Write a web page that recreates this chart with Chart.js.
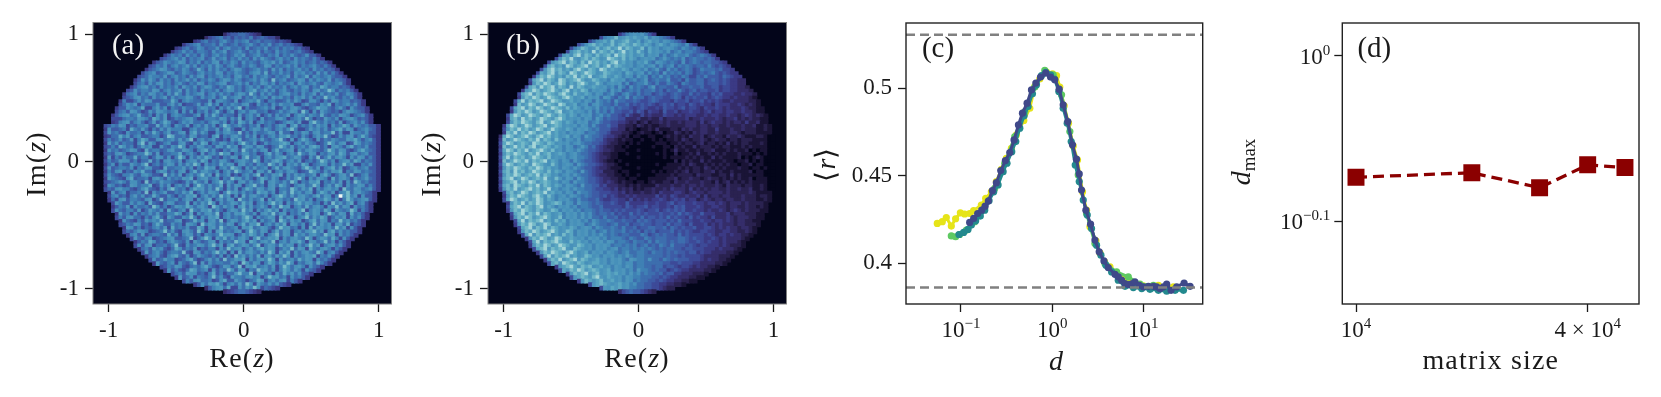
<!DOCTYPE html>
<html lang="en">
<head>
<meta charset="UTF-8" />
<title>Eigenvalue density and level spacing ratio</title>
<script src="https://cdn.jsdelivr.net/npm/chart.js"></script>
<style>
  html, body { margin: 0; background: #fff; }
  #page { position: relative; width: 1661px; height: 397px; overflow: hidden; }
  canvas { position: absolute; top: 0; filter: blur(0.35px); }
</style>
</head>
<body>
<div id="page">
  <canvas id="panelA" width="415" height="397" style="left:0"></canvas>
  <canvas id="panelB" width="385" height="397" style="left:415px"></canvas>
  <canvas id="panelC" width="420" height="397" style="left:800px"></canvas>
  <canvas id="panelD" width="441" height="397" style="left:1220px"></canvas>
</div>
<script>
// heatmap levels by eye, one hex digit per cell, top row first. each row only lists
// the cells inside the disk and is centred in the 80 bins
const densityA = [
"","","",
"3566776543",
"3567867576 7685676553",
"4578676897 6878967867 765654",
"4678967786 9767867897 6879678676 54",
"4578679867 7968977869 6787967868 786754",
"4679786887 6978a67897 6879687697 87678654",
"4687869786 9768978679 8a67897687 9687976796 64",
"5678979687 8967a78968 7978697a87 6897869787 6864",
"4679878a96 8796879a68 7986978768 98a7967897 86786764",
"5687968978 a7968797a8 6897687986 7a96878979 6878976864",
"4678a97687 9867b86979 7868a97678 9786a79687 8978697867 64",
"5789678a96 7987689787 a968798768 9a7b687978 6989786a79 6864",
"5679887a68 9786979a68 7897869a78 6978976878 a6978b6987 897664",
"4697a86978 6978a79687 9868a97986 7897a86c78 9678a96979 87a68764",
"5786979a78 6897687a96 8789a67897 9687a97968 7896a87897 69878964",
"4689a78697 8796a87968 a97687b978 6897968a78 7968979a68 7b97886764",
"5697887a96 8978a69786 9787968a97 8689b78a79 6897687986 9a78c96878 64",
"4789687a97 8697b86978 9a68979786 8a97c86979 7689a78697 8a69787967 9864",
"5679a78697 8a69788a97 6978968b78 9a68797896 a8978698a7 9687c89768 7964",
"4855797a96 6677b85898 7766a59987 6a57898b75 8866797a85 6997586a97 886764",
"5798a58777 9668a79566 7a68b79587 9879a65978 697a889558 a77698b587 897964",
"4669878b55 8a79587697 768a978597 a79c586678 97a56979a8 6578b99768 a7597664",
"5786a97569 7a9878a596 9587968b75 8a58979a77 8567978a96 c8596a8767 58a98764",
"4689a78b76 8597a58987 668a597b86 8775a6897a 5796978a58 a97987b768 7a98578964",
"5557887a98 6b97a56878 9a7558887a 9697b58975 a6779a8578 97c8576a87 9589a86764",
"4589a68975 7a68b96579 8a77868a97 9586b97a58 9787568a97 a559c87978 6a57897964",
"5687a95768 8966b7a859 87a5897a79 58c978a768 7a57868a95 9b68797a89 5978b96a87 8664",
"4966785b87 a758697a88 8558978a77 a69b755968 a97a868979 c8557a8979 689b7a9578 9764",
"5a78659778 597b868a67 9a59b7a855 979a87c686 9778a96b77 587a969a78 8c6955a887 9664",
"4577b8a689 6678857cb7 786a967759 b5879a8697 a586897a9b 7869758a8c 756979a68b 8654",
"5867967a58 b9669a7897 a79c58978a 6575a8b678 97a7689c75 a58b975a68 79877a9b86 8964",
"4a79687759 c6a8568966 9a6597ba58 7a97869c87 a569788ab9 5897a87568 c979a56b97 8764",
"5686b97857 a8955a7698 c9587a9786 a97b8958a9 7a96578c97 a6897ab968 59a869b787 9664",
"4978678a96 5b788679a7 7a9858ab79 6587a96c87 979a58b789 a5979a8768 c97a96579b 8764",
"5769a85678 8c96a57788 b68975a689 7c9a587a97 8569b7a858 97c87a9587 9a7b969a78 9664",
"4a586977b6 8857a96958 c9597a8b96 7587a959c7 8a58979ab7 8a96597c68 b79a8597a9 6864",
"5867a99685 77b6859a87 a589a7b958 7a97589a87 c9587ab968 97a57868ca 79589a7b96 8764",
"4795866a87 9c57868a96 97a8c95a78 7b8a959a78 6987c97a59 8a7b9578a9 6978c8a558 7964",
"5a67887958 7a9665b778 8a79587b9a 5897ca8597 a78958b79a 8769c97a58 9b7a568978 9664",
"4869a57698 b7758a9686 9a58b79a87 958a7c9789 5a97b58979 a8567ca869 7a9b587a97 8764",
"5976588a76 9a8665c797 a58979c8a5 b78a575897 9c587a9b59 7a8978a59b 8579a7c568 9664",
"4a87659b67 7859a86978 7a9b589a78 9587c9a797 58b97a8569 7ac8597a98 5b79a85978 a764",
"5678a86997 5c687a8876 5697b87a58 9c7a859a79 78b59a8797 c9587a9b58 797a596c97 8664",
"4986756a97 88b5697a58 97a58c9797 8b5a7a9589 c7859a7b97 589a78c958 a7b95978a9 6864",
"5769a88657 9b76586ac8 7858b9a797 c8597a58b9 7a979a5887 c97a8b5979 a895c87a97 8964",
"4a68957786 c5978a6687 a8b5797a98 58c9a79786 b9a7958a7c 8979a58b97 a589c79a87 64",
"5896758a79 67b8669758 7a9b58a797 c8a595b79a 87958ac97a 79a879b7a9 58f9c8a596 64",
"4759a68876 9a57c68896 8a95979b58 a7a95c8797 8b5a7a9786 c9a79588b9 7a58c9789a 64",
"5a86697985 b7658a9677 b597a8c959 78a97b8a58 979c8a5979 b8a978596c 8a79b58964",
"4687a59778 6c96857a98 b979a85c97 a8959b7a78 a8597c9a58 97b79a8598 c7a9597864",
"5976886a57 a8795b7689 5c87a9b797 58a97c8a59 79b8a59787 9c58a97b95 a878c95864",
"4a78596879 7a6688b957 b5979a8c58 97a9b87959 a8c79a5879 7b8a958c97 a95b7864",
"5869a77586 9b75a86698 c8597a9b58 9787ac9597 8a95b7a958 9c7a8b9579 8a597964",
"4976586a89 8c6779a567 b8959a7c58 a979b8a597 8a5c97a895 79b7a9587c 897864",
"5687a96758 b8669785a9 85c8a9797a 958b7a9c58 97a8b5a979 58c7a8959a 7b5764",
"4a96857689 7a5b787966 b959a7c878 95a9b78a97 58c9a78595 b7a9897c8a 5964",
"5768a98567 8c79659a86 c8595ab787 9a58c97a95 8b7a958979 ac8a59b797 8664",
"4896a57887 6b7958a968 59878c9a95 7a8b97958a c7a95b8979 a87c9a5978 64",
"5a76895678 9a6678c579 c95a8b7979 a859c78a9b 5979a87c95 8a97b85964",
"4687b96758 a87695a867 9a59787c9a 5b979a8c58 97a9b85a97 8c795864",
"5969a57786 8c65978a97 9c8a59b78a 979c58a97b 8a95979c8a 589a7964",
"4786a89657 b9687a5768 8597c89a68 a79b8a9579 8c7a95b879 a85864",
"5a68975788 7c65a96879 c8a595b79a 8797c95a8b 5979a87c95 8964",
"4789658ab7 6957a87686 9585c8a797 b59a7a8c95 978a9b5879 64",
"5967a88567 9b7568a796 c78a9b5979 a8c95a7897 b8a9597864",
"4a76895976 8c5a697887 7a85c97a95 8b97a8c958 79a7b864",
"5687a96578 79b8657a96 8c5a9b7897 a58c979a85 9764",
"4968657ba7 895a687c96 a9587c9a79 58b97a8597 64",
"5786a99675 8b68577ac8 8c59a78597 b8a79664",
"4a67958768 c7965a8879 a8958c9a78 597864",
"5869a77856 9b66a87578 ba58979a58 64",
"4697a9b858 97a7c95a87 979654",
"3689a7b559 7a8c957654",
"3456776543",
"","",""];
const densityB = [
"","","",
"4689a9a864",
"589ac9abab a9b8a98764",
"579ab9c9ab ca9b8ab9a8 a98764",
"579bcab9ac 9bcbacb9ba 8ab98a9879 64",
"58acb9ac9b cabdacb9ac 8b9a89a987 987864",
"59bcab9dac bac9bdab9c a8b9a98a78 97887654",
"5ab9cdacb9 cabc9dbcab 9ab8a9a797 8a88976787 64",
"5acbda9bca cb9adcbac9 ba89a9a78a 8787967877 6764",
"5abcdacb9c adbcab9cda b9a8a9b87a 9878769678 76776654",
"5bcab9dcab cdabc9bdac ba9a89a89a 7978968787 6776865654",
"5acdbcab9c dbacb9dcab a9ba8a98a7 8a76978678 7568777675 54",
"5bacdacb9d cabdcb9acb a9a8ba89a7 9786a78786 8756767865 6544",
"4acbdcab9c bdacbd9abc a9ba8a97a8 9687978676 8755768666 576544",
"5bcdacb9dc abcdb9acb9 a8ba9a7897 8a67877966 7586677567 65654433",
"4acbdcabdc 9bacdb9aca 89a9a79678 8a76866876 5876677566 65654433",
"5bcadbcdac b9dacb9aba 9a897a8697 8768a67766 8566766755 6645544332",
"4abdcabcdb acd9bacb8a 9a97a89678 7867786757 6686567566 5564554433 32",
"5bcdacbdcb acdb9ca9ba 8a978a7689 7686775676 5676557565 5465644433 4332",
"4acbdcabdc bacdb9ab8a 9a7a97687a 6877567665 5676465655 6456544343 3321",
"5bdacbcdab dcb9ab9a8a 97a8786977 6676556765 5546556455 6454543343 333221",
"4cabdcabdc badc9ab89a 79a8776866 7565656545 6564554654 5443544433 432321",
"5bcdacbdca bdcbac9ba8 a98a787867 6654565445 4655456455 4354454343 33432211",
"4acbdcabdc bacd9ab9a9 8a79786866 5564653544 3644534454 4345344344 33433211",
"5bdcabdcba cdbacb9ba8 a9a7897866 5464335343 3354434344 4334344334 3323432321",
"4bcadbcabd cbacdb9a9a 8a97a86766 5533342232 2423333342 3343334323 3423232211",
"5acbdcbacd abdcb9ba8a 9a78976655 4432312312 2323223233 3242343323 2332422311",
"4bdcabdcab cdabcb9a9a 8a97976675 5332213212 1122322223 3323323322 3222322311 21",
"5acbdbcabd cabdba9ba8 a9a8786664 4331210112 1311122132 3223322422 2322322211 21",
"4cbdacbdca bcdab9a8a9 a978876653 3322101211 0120113212 1323322322 2332122211 11",
"3bdcabcdba cdbcab9ab8 a97a877654 4321201100 1100121212 1322312322 1322321112 2100",
"4cabdcbacb dacb9ca8a9 8a78876643 3212110010 0101011213 2122321232 2122122211 1100",
"5bdcabcbad cbacb9a9a8 9a87766543 2211010100 0011101121 2212312212 1312122111 2100",
"4cabdbcacd abcb9ba8a9 78a8675432 2110100000 0100110212 1131222121 2211121211 1100",
"5bdcacbdab cdbac9a8a9 8a87665433 2111000100 0000101311 2112122311 1212112010 1100",
"4acbdcbacb dabc9aba89 a877654322 1100100000 0010100201 1213112121 2111211101 0100",
"5bdacbcabd cbac9a9a89 a887654332 1100000100 0000101111 2121211312 1111201012 1000",
"4cabdcbdac bcd9ba8a97 a876654321 1010000000 0000000202 1211312111 2110112010 1000",
"5bdcabcbad cba9ca89a9 7a87665432 2100100000 0010011112 1321121212 1211011201 1000",
"4acbdcbacb dcab9a8a98 a876654332 1110000100 0000111121 2122132121 2111211011 0100",
"5bcadbcabd cbac9ba8a9 87a7654422 2101100000 0101011212 3122122312 1121111201 1000",
"4acbdcabcb dacb9a89a8 a877654332 2110100100 0011112122 2213222112 2131211111 1000",
"5bcdabdcab cbda9ca8a9 7a87665433 2211011000 1111122312 2322123221 2121211201 1100",
"4abcdacbdc abcb9a8a97 a887665434 3212110110 1211221322 3222322131 2312121211 1100",
"5bcadcbacb dacb9ba8a9 87a7766453 3322121211 1132223223 2332322232 1322212211 2100",
"4acbdabcdb cabd9a89a8 a887765544 3423231212 2322324333 2423232332 2322322311 2100",
"5bcabdcabc bdab9a8a97 a887665554 4342322322 3243334432 3433233332 3222223211 11",
"4acbdcbacd b9ca89a8a9 8787665645 4334343333 3534354334 3342423323 3222322212 21",
"5bdcabcabd c9ba8a9a87 9776675445 5443534343 4454345453 4423432332 3322322211 21",
"4acbdacbdc 9abcb8a97a 8876765565 4464444544 5445645544 5443443432 3332322221",
"5bcdacbacd 9ba8a9a897 8876675555 5465455645 5445465644 4543344332 3322322121",
"4acbdcbacb 9acb8a9a89 7887676656 5655565455 6456565644 5443433432 3432322211",
"5bcdacbdac b9ab8a9a8a 8976776756 5575656555 6556575654 4644433342 33322211",
"4acbdcabcd b9ac8a9a8a 8977686675 6566575665 6575655464 5443533343 23332211",
"5bdacbcdab 9cab8a9a89 7987787667 6657676566 6565755544 5443443432 332211",
"4acbdcabdc 9aba8a9a97 8a87767866 7566766566 5756654644 4534343332 332221",
"5bcdacbdac b9a9ba89a9 7987787686 6756677667 5765655644 5543434332 3321",
"4acbdcabcd b9acb8a9a8 9789787786 7675767566 6756565445 5443344332 2321",
"5bdacbcdab 9cab8a9a89 8a87876776 6687567676 6575655554 5434434332 21",
"4acbdcabdc 9aba9a8a9a 8978887687 6687677766 6776565544 5434333321",
"5bdacbcdba 9cab9a8a9a 8a97887687 7686877676 7765565454 43433321",
"4acbdcabdc b9acb9a8a9 a978878786 7867687686 6656545544 43432221",
"5bcdacbcda 9cba9a8a9a 89a7887878 7876767766 5665554443 433321",
"4acbdcbacd b9ab8a9a8a 9878977887 6877676766 5664544333 3221",
"5bdacbcdab 9acb9a8a9a 898a878877 7776766565 5554333322 21",
"4acbdabcda cb9ab9a8a9 a87a988797 7687676665 5543433221",
"5bcadcbacb 9abb9a8a9a 8997887777 7665565554 43333221",
"4abcdbacbc 9ab9a8a98a 9788776775 6654554343 3221",
"5bacbdcabc b9ab8a9a89 7a88767664 5654433332 21",
"4acbcdabc9 abab9a8a89 7877675664 43332221",
"5abcbacda9 ba9a8a9887 7766565443 332211",
"4acbabc9ab 9a8a978776 6565443322 11",
"5abcba9ab9 a897766554 433221",
"5a9bab9a88 7766554322",
"3567665432",
"","",""];
const levelColors = ["#03051a","#1a1436","#2a2250","#352d6a","#3b3a85","#3d4a98","#3e5ca6","#3d6eae","#3f80b4","#4790ba","#4e96bc","#5aa6c1","#74b9c8","#a5d5d8","#c8e6e4","#eef8f4"];
const reTicks = [-1, 0, 1];
const imTicks = [-1, 0, 1];

// panel c: log10(d) and <r> per matrix size
const logDYellow = [-1.260,-1.205,-1.161,-1.106,-1.059,-1.007,-.960,-.905,-.861,-.777,-.729,-.667,-.612,-.557,-.502,-.447,-.392,-.311,-.245,-.190,-.136,-.062,.004,.048,.084,.132,.179,.231,.278,.333,.377,.414,.480,.524,.575,.634,.707,.799,.890,1.0,1.165,1.256,1.330];
const rYellow = [.4227,.4237,.4261,.4212,.4254,.4288,.4281,.4284,.4300,.4332,.4370,.4408,.4466,.4536,.4599,.4656,.4733,.4815,.4885,.5010,.5052,.5092,.5082,.5071,.5006,.4899,.4800,.4670,.4590,.4408,.4303,.4208,.4128,.4059,.4008,.3979,.3947,.3918,.3887,.3870,.3874,.3861,.3865];
const logDGreen = [-1.106,-1.059,-1.015,-.941,-.850,-.740,-.630,-.520,-.410,-.300,-.190,-.081,.011,.103,.194,.286,.377,.469,.579,.707,.835,.963,1.110,1.256];
const rGreen = [.4156,.4151,.4164,.4189,.4237,.4313,.4427,.4571,.4723,.4866,.5006,.5101,.5076,.4962,.4752,.4504,.4284,.4113,.3998,.3950,.3922,.3880,.3874,.3849];
const logDTeal = [-1.022,-.971,-.923,-.886,-.839,-.788,-.740,-.692,-.641,-.593,-.538,-.495,-.443,-.399,-.355,-.308,-.264,-.216,-.172,-.117,-.070,-.018,.026,.073,.121,.165,.209,.253,.297,.341,.385,.432,.487,.535,.590,.652,.725,.799,.890,.982,1.073,1.165,1.256,1.348,1.440];
const rTeal = [.4164,.4176,.4193,.4218,.4242,.4269,.4303,.4357,.4408,.4447,.4523,.4571,.4637,.4695,.4771,.4842,.4895,.4968,.5019,.5071,.5090,.5076,.5052,.4981,.4885,.4800,.4695,.4561,.4466,.4361,.4275,.4198,.4103,.4046,.3989,.3950,.3903,.3868,.3861,.3855,.3851,.3845,.3840,.3845,.3845];
const logDIndigo = [-.905,-.861,-.817,-.773,-.736,-.700,-.656,-.612,-.564,-.513,-.465,-.418,-.370,-.326,-.275,-.227,-.179,-.128,-.070,-.018,.029,.077,.121,.172,.223,.267,.297,.322,.370,.421,.469,.516,.568,.615,.689,.725,.762,.799,.835,.872,.908,.956,1.0,1.055,1.11,1.147,1.183,1.22,1.256,1.304,1.366,1.447,1.513];
const rIndigo = [.4233,.4256,.4284,.4303,.4326,.4355,.4414,.4460,.4529,.4586,.4632,.4704,.4790,.4857,.4914,.4990,.5029,.5063,.5086,.5063,.5048,.4994,.4905,.4809,.4676,.4594,.4510,.4418,.4303,.4223,.4132,.4065,.4013,.3975,.3937,.3922,.3903,.3884,.3878,.3882,.3893,.3874,.3865,.3868,.3868,.3865,.3855,.3865,.3880,.3845,.3865,.3887,.3868];
const dashLevels = [0.5305, 0.3861];
const dTicks = [0.1, 1, 10];
const rTicks = [0.4, 0.45, 0.5];

// panel d
const matrixSizes = [10000, 20000, 30000, 40000, 50000];
const dMax = [0.8443, 0.8497, 0.8322, 0.8591, 0.8558];
const sizeTicks = [10000, 40000];
const dMaxTicks = [1, Math.pow(10, -0.1)];

const SERIF = '"Liberation Serif", serif';
const tickFont = { family: SERIF, size: 23 };
const BINS = 80;

// draws a row of text pieces with mixed size and style (superscripts, italic letters)
function drawRuns(ctx, runs, x, y, align, rotated) {
  ctx.save();
  ctx.translate(x, y);
  if (rotated) ctx.rotate(-Math.PI / 2);
  ctx.textBaseline = 'alphabetic';
  ctx.textAlign = 'left';
  let total = 0;
  const setFont = r => {
    ctx.font = (r.italic ? 'italic ' : '') + (r.size || 23) + 'px ' + SERIF;
    ctx.letterSpacing = (r.spacing || 0) + 'px';
  };
  runs.forEach(r => { setFont(r); total += ctx.measureText(r.text).width; });
  let cx = align === 'right' ? -total : -total / 2;
  runs.forEach(r => {
    setFont(r);
    ctx.fillStyle = r.color || '#1a1a1a';
    ctx.fillText(r.text, cx, r.dy || 0);
    cx += ctx.measureText(r.text).width;
  });
  ctx.restore();
}

const sup = text => ({ text, size: 15, dy: -9 });
const ten = { text: '10', size: 23 };
const labelRuns = (...parts) => parts.map(p => typeof p === 'string'
  ? { text: p, size: 28, spacing: 1.2 }
  : Object.assign({ size: 28 }, p));

const panelDecor = {
  id: 'panelDecor',
  beforeDatasetsDraw(chart, args, opts) {
    if (!opts.plotFill) return;
    const { ctx, chartArea: a } = chart;
    ctx.fillStyle = opts.plotFill;
    ctx.fillRect(a.left, a.top, a.right - a.left, a.bottom - a.top);
  },
  afterDraw(chart, args, opts) {
    const { ctx, chartArea: a } = chart;
    ctx.save();
    ctx.strokeStyle = opts.frame;
    ctx.lineWidth = opts.frameWidth;
    ctx.strokeRect(a.left, a.top, a.right - a.left, a.bottom - a.top);
    ctx.restore();
    drawRuns(ctx, [{ text: opts.tag, size: 29, color: opts.tagColor }], a.left + opts.tagX, opts.tagY, 'center');
    const xl = opts.xLabel, yl = opts.yLabel;
    drawRuns(ctx, xl.runs, a.left + xl.x, xl.y, 'center');
    drawRuns(ctx, yl.runs, yl.x, yl.y, 'center', true);
    (opts.xMath || []).forEach(t => drawRuns(ctx, t.runs, chart.scales.x.getPixelForValue(t.value), 337, 'center'));
    (opts.yMath || []).forEach(t => drawRuns(ctx, t.runs, a.left - 12, chart.scales.y.getPixelForValue(t.value) + 8, 'right'));
  }
};
Chart.register(panelDecor);

function fixedTicks(values) {
  return scale => { scale.ticks = values.map(value => ({ value })); };
}
// y axis box is as wide as the left margin, x axis box as tall as the bottom margin
function axis(type, min, max, ticks, callback, isY, box) {
  return {
    type, min, max,
    offset: false,
    afterBuildTicks: fixedTicks(ticks),
    afterFit: s => { if (isY) s.width = box; else s.height = box; },
    border: { display: false },
    grid: { offset: false, drawOnChartArea: false, drawTicks: true, tickLength: 8, tickWidth: 1.3, tickColor: '#1a1a1a' },
    ticks: { font: tickFont, color: '#1a1a1a', padding: isY ? 6 : 5, autoSkip: false, maxRotation: 0, callback }
  };
}
const plainTick = v => (v === 0 ? '0' : String(v));

function heatmapChart(id, rows, tag, frameLeft, width, xMin, xMax) {
  const yMin = -1.118, yMax = 1.092;
  const dx = (xMax - xMin) / BINS, dy = (yMax - yMin) / BINS;
  const cells = [], colors = [];
  rows.forEach((row, r) => {
    const chars = row.replace(/ /g, '');
    const first = Math.round((BINS - chars.length) / 2);
    for (let i = 0; i < chars.length; i++) {
      const top = yMax - r * dy;
      cells.push({ x: xMin + (first + i + 0.5) * dx, y: [top - dy, top] });
      colors.push(levelColors[parseInt(chars[i], 16)]);
    }
  });
  new Chart(document.getElementById(id), {
    type: 'bar',
    data: { datasets: [{ data: cells, backgroundColor: colors, borderWidth: 0, barPercentage: 1, categoryPercentage: 1, inflateAmount: 0.6 }] },
    options: {
      responsive: false, animation: false,
      layout: { padding: { left: 0, right: width - frameLeft - 298.5, top: 22.5, bottom: 0 } },
      scales: {
        x: axis('linear', xMin, xMax, reTicks, plainTick, false, 93),
        y: axis('linear', yMin, yMax, imTicks, plainTick, true, frameLeft)
      },
      plugins: {
        legend: { display: false }, tooltip: { enabled: false },
        panelDecor: {
          plotFill: levelColors[0],
          frame: '#808080', frameWidth: 1, tag, tagColor: '#f2f2f2', tagX: 35, tagY: 54,
          xLabel: { runs: labelRuns('Re(', { text: 'z', italic: true }, ')'), x: 149, y: 367 },
          yLabel: { runs: labelRuns('Im(', { text: 'z', italic: true }, ')'), x: frameLeft - 48, y: 164 }
        }
      }
    }
  });
}

heatmapChart('panelA', densityA, '(a)', 93, 415, -1.116, 1.094);
heatmapChart('panelB', densityB, '(b)', 73, 385, -1.117, 1.097);

const toPoints = (logs, vals) => logs.map((l, i) => ({ x: Math.pow(10, l), y: vals[i] }));
const curve = (logs, vals, color, order) => ({
  data: toPoints(logs, vals), borderColor: color, backgroundColor: color, borderWidth: 3,
  pointRadius: 3.6, pointBorderWidth: 0, tension: 0, order
});
const xMinC = Math.pow(10, -1.603), xMaxC = Math.pow(10, 1.651);
const dashLine = (level) => ({
  data: [{ x: xMinC, y: level }, { x: xMaxC, y: level }], borderColor: '#808080', borderWidth: 2.4,
  borderDash: [9, 5], pointRadius: 0, order: 0
});

new Chart(document.getElementById('panelC'), {
  type: 'line',
  data: { datasets: [
    curve(logDYellow, rYellow, '#e6e419', 4),
    curve(logDGreen, rGreen, '#5ec962', 3),
    curve(logDTeal, rTeal, '#23898e', 2),
    curve(logDIndigo, rIndigo, '#3f4889', 1),
    dashLine(dashLevels[0]),
    dashLine(dashLevels[1])
  ] },
  options: {
    responsive: false, animation: false,
    layout: { padding: { left: 0, right: 17.3, top: 23, bottom: 0 } },
    scales: {
      x: axis('logarithmic', xMinC, xMaxC, dTicks, () => '', false, 93),
      y: axis('linear', 0.3767, 0.5372, rTicks, v => String(v), true, 106)
    },
    plugins: {
      legend: { display: false }, tooltip: { enabled: false },
      panelDecor: {
        frame: '#222222', frameWidth: 1.4, tag: '(c)', tagColor: '#1a1a1a', tagX: 32, tagY: 57,
        xLabel: { runs: labelRuns({ text: 'd', italic: true }), x: 150, y: 370 },
        yLabel: { runs: labelRuns('⟨', { text: 'r', italic: true }, '⟩'), x: 35, y: 164 },
        xMath: [
          { value: 0.1, runs: [ten, sup('−1')] },
          { value: 1, runs: [ten, sup('0')] },
          { value: 10, runs: [ten, sup('1')] }
        ]
      }
    }
  }
});

new Chart(document.getElementById('panelD'), {
  type: 'line',
  data: { datasets: [{
    data: matrixSizes.map((x, i) => ({ x, y: dMax[i] })),
    borderColor: '#8b0000', backgroundColor: '#8b0000', borderWidth: 3.3, borderDash: [11, 6],
    pointStyle: 'rect', pointRadius: 12, pointBorderWidth: 0, tension: 0
  }] },
  options: {
    responsive: false, animation: false,
    layout: { padding: { left: 0, right: 22, top: 23, bottom: 0 } },
    scales: {
      x: axis('logarithmic', 10000 / Math.pow(10, 13.7 / 384.8), 10000 * Math.pow(10, 283 / 384.8), sizeTicks, () => '', false, 93),
      y: axis('logarithmic', Math.pow(10, -0.1501), Math.pow(10, 0.0198), dMaxTicks, () => '', true, 122.3)
    },
    plugins: {
      legend: { display: false }, tooltip: { enabled: false },
      panelDecor: {
        frame: '#222222', frameWidth: 1.4, tag: '(d)', tagColor: '#1a1a1a', tagX: 32, tagY: 57,
        xLabel: { runs: labelRuns('matrix size'), x: 148.5, y: 369 },
        yLabel: { runs: labelRuns({ text: 'd', italic: true }, { text: 'max', size: 19, dy: 5 }), x: 30, y: 162 },
        xMath: [
          { value: 10000, runs: [ten, sup('4')] },
          { value: 40000, runs: [{ text: '4 × 10', size: 23 }, sup('4')] }
        ],
        yMath: [
          { value: 1, runs: [ten, sup('0')] },
          { value: Math.pow(10, -0.1), runs: [ten, sup('−0.1')] }
        ]
      }
    }
  }
});
</script>
</body>
</html>
